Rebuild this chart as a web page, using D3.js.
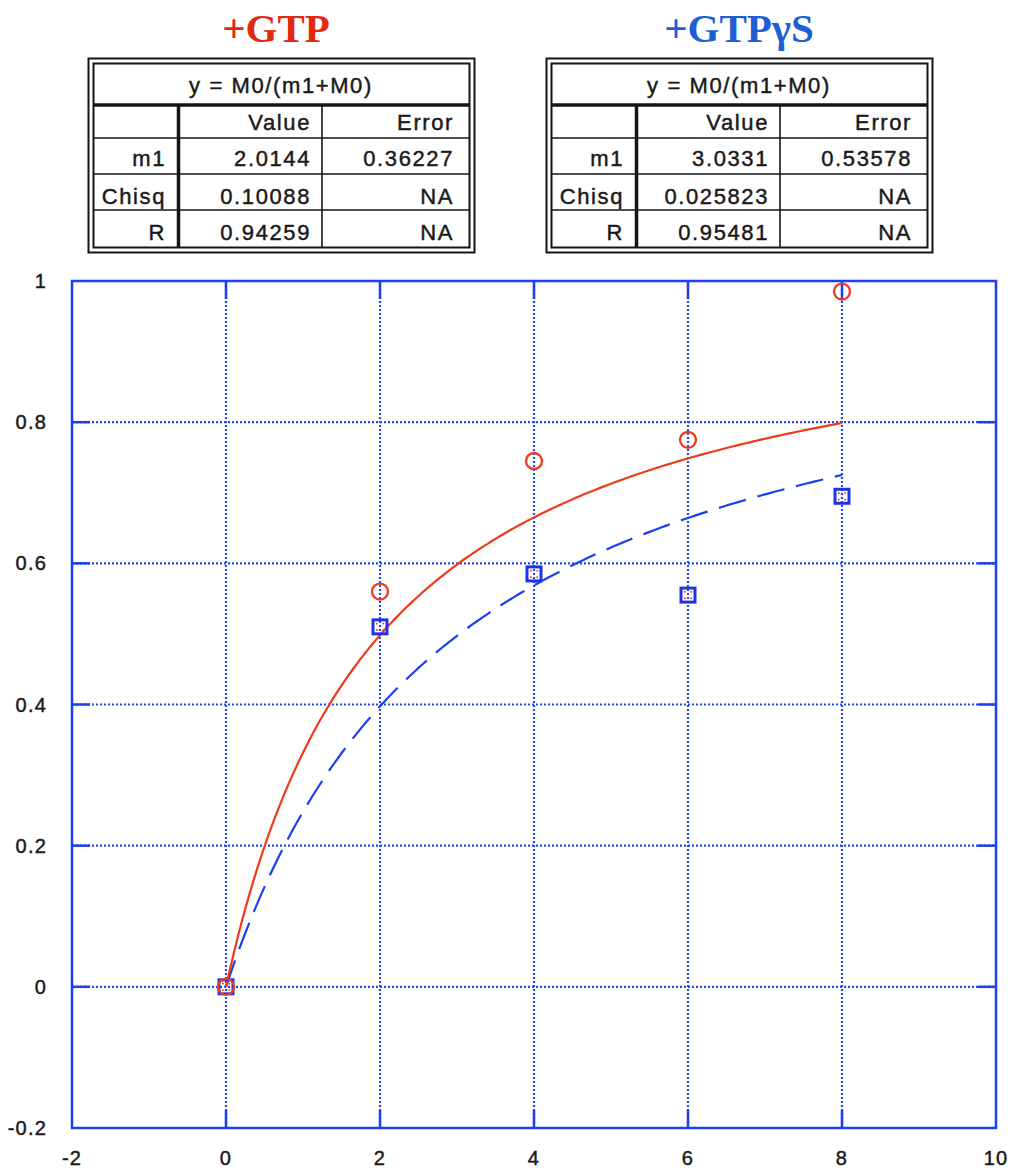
<!DOCTYPE html>
<html>
<head>
<meta charset="utf-8">
<script src="https://cdn.jsdelivr.net/npm/d3@7"></script>
<style>
  html, body { margin: 0; padding: 0; background: #fff; }
  svg { display: block; }
</style>
</head>
<body>
<script>
// Saturation data: fraction bound vs concentration, with hyperbolic fits y = M0/(m1+M0)
const xTicks = [-2, 0, 2, 4, 6, 8, 10];
const yTicks = [-0.2, 0, 0.2, 0.4, 0.6, 0.8, 1];
const yTickLabels = ["-0.2", "0", "0.2", "0.4", "0.6", "0.8", "1"];

const gtpX = [0, 2, 4, 6, 8];
const gtpY = [0, 0.56, 0.745, 0.775, 0.985];
const gtpgsX = [0, 2, 4, 6, 8];
const gtpgsY = [0, 0.51, 0.585, 0.555, 0.695];

// Fit results
const fitFormula = "y = M0/(m1+M0)";
const colHeaders = ["", "Value", "Error"];
const rowNames = ["m1", "Chisq", "R"];
const gtpValues = ["2.0144", "0.10088", "0.94259"];
const gtpErrors = ["0.36227", "NA", "NA"];
const gtpgsValues = ["3.0331", "0.025823", "0.95481"];
const gtpgsErrors = ["0.53578", "NA", "NA"];
const gtpM1 = 2.0144;
const gtpgsM1 = 3.0331;

const W = 1011, H = 1170;
const svg = d3.select("body").append("svg").attr("width", W).attr("height", H);

const RED = "#ee3b1c", BLUE = "#1d3ff0", GRID = "#2748ee";

// ---- titles ----
svg.append("text").attr("x", 276).attr("y", 42).attr("text-anchor", "middle")
  .attr("font-family", "Liberation Serif, serif").attr("font-weight", "bold")
  .attr("font-size", 41).attr("fill", "#e2290f").text("+GTP");
svg.append("text").attr("x", 739).attr("y", 42).attr("text-anchor", "middle")
  .attr("font-family", "Liberation Serif, serif").attr("font-weight", "bold")
  .attr("font-size", 41).attr("fill", "#1f5fd6").text("+GTPγS");

// ---- fit tables ----
function drawTable(x0, values, errors) {
  const g = svg.append("g").attr("transform", `translate(${x0},0)`);
  const ink = "#151515";
  const fnt = { family: "Liberation Sans, Arial, sans-serif", size: 22, ls: 1.6 };
  // double outer border
  g.append("rect").attr("x", 0.5).attr("y", 58.5).attr("width", 386).attr("height", 194)
    .attr("fill", "none").attr("stroke", ink).attr("stroke-width", 2);
  g.append("rect").attr("x", 5.5).attr("y", 63.5).attr("width", 376).attr("height", 184)
    .attr("fill", "none").attr("stroke", ink).attr("stroke-width", 2);
  // thick rule under the formula
  g.append("line").attr("x1", 5).attr("x2", 382).attr("y1", 105).attr("y2", 105)
    .attr("stroke", ink).attr("stroke-width", 3.5);
  // row rules
  [138, 174, 210].forEach(y => g.append("line").attr("x1", 5).attr("x2", 382)
    .attr("y1", y).attr("y2", y).attr("stroke", ink).attr("stroke-width", 1.6));
  // column rules
  g.append("line").attr("x1", 90.5).attr("x2", 90.5).attr("y1", 105).attr("y2", 248)
    .attr("stroke", ink).attr("stroke-width", 3.5);
  g.append("line").attr("x1", 234).attr("x2", 234).attr("y1", 105).attr("y2", 248)
    .attr("stroke", ink).attr("stroke-width", 1.6);

  const txt = (x, y, s, anchor) => g.append("text").attr("x", x).attr("y", y)
    .attr("text-anchor", anchor || "end").attr("font-family", fnt.family)
    .attr("font-size", fnt.size).attr("letter-spacing", fnt.ls).attr("fill", "#1a1a1a")
    .attr("stroke", "#1a1a1a").attr("stroke-width", 0.45).text(s);

  txt(193, 93, fitFormula, "middle");
  const colRight = [78, 223, 366];
  const baselines = [130, 166, 204, 240];
  colHeaders.forEach((h, i) => txt(colRight[i], baselines[0], h));
  rowNames.forEach((r, i) => {
    txt(colRight[0], baselines[i + 1], r);
    txt(colRight[1], baselines[i + 1], values[i]);
    txt(colRight[2], baselines[i + 1], errors[i]);
  });
}
drawTable(88, gtpValues, gtpErrors);
drawTable(546, gtpgsValues, gtpgsErrors);

// ---- plot ----
const x = d3.scaleLinear().domain([-2, 10]).range([72, 996]);
const y = d3.scaleLinear().domain([-0.2, 1]).range([1128, 281]);
const plot = svg.append("g");

// dotted grid
const gridX = xTicks.filter(v => v > -2 && v < 10);
const gridY = yTicks.filter(v => v > -0.2 && v < 1);
plot.selectAll(".gx").data(gridX).join("line")
  .attr("x1", d => x(d)).attr("x2", d => x(d)).attr("y1", y(1)).attr("y2", y(-0.2))
  .attr("stroke", GRID).attr("stroke-width", 2.2).attr("stroke-dasharray", "2,2");
plot.selectAll(".gy").data(gridY).join("line")
  .attr("x1", x(-2)).attr("x2", x(10)).attr("y1", d => y(d)).attr("y2", d => y(d))
  .attr("stroke", GRID).attr("stroke-width", 2.2).attr("stroke-dasharray", "2,2");

// inward solid ticks on all four sides
const tl = 18;
gridX.forEach(v => {
  plot.append("line").attr("x1", x(v)).attr("x2", x(v)).attr("y1", y(1)).attr("y2", y(1) + tl)
    .attr("stroke", BLUE).attr("stroke-width", 2.5);
  plot.append("line").attr("x1", x(v)).attr("x2", x(v)).attr("y1", y(-0.2)).attr("y2", y(-0.2) - tl)
    .attr("stroke", BLUE).attr("stroke-width", 2.5);
});
gridY.forEach(v => {
  plot.append("line").attr("x1", x(-2)).attr("x2", x(-2) + tl).attr("y1", y(v)).attr("y2", y(v))
    .attr("stroke", BLUE).attr("stroke-width", 2.5);
  plot.append("line").attr("x1", x(10)).attr("x2", x(10) - tl).attr("y1", y(v)).attr("y2", y(v))
    .attr("stroke", BLUE).attr("stroke-width", 2.5);
});

// frame
plot.append("rect").attr("x", x(-2)).attr("y", y(1))
  .attr("width", x(10) - x(-2)).attr("height", y(-0.2) - y(1))
  .attr("fill", "none").attr("stroke", BLUE).attr("stroke-width", 2.5);

// tick labels
const lblFont = "Liberation Sans, Arial, sans-serif";
plot.selectAll(".yl").data(yTicks).join("text")
  .attr("x", 47).attr("y", d => y(d) + 7).attr("text-anchor", "end")
  .attr("font-family", lblFont).attr("font-size", 20).attr("letter-spacing", 1.2)
  .attr("fill", "#1a1a1a").attr("stroke", "#1a1a1a").attr("stroke-width", 0.45)
  .text((d, i) => yTickLabels[i]);
plot.selectAll(".xl").data(xTicks).join("text")
  .attr("x", d => x(d)).attr("y", 1165).attr("text-anchor", "middle")
  .attr("font-family", lblFont).attr("font-size", 20).attr("letter-spacing", 1.2)
  .attr("fill", "#1a1a1a").attr("stroke", "#1a1a1a").attr("stroke-width", 0.45)
  .text(d => String(d));

// fitted curves y = x/(m1 + x) over the measured range
const fitXs = d3.range(0, 8.0001, 0.05);
const line = d3.line().x(d => x(d[0])).y(d => y(d[1]));
plot.append("path").datum(fitXs.map(v => [v, v / (gtpgsM1 + v)]))
  .attr("d", line).attr("fill", "none").attr("stroke", BLUE).attr("stroke-width", 2.2)
  .attr("stroke-dasharray", "28,12");
plot.append("path").datum(fitXs.map(v => [v, v / (gtpM1 + v)]))
  .attr("d", line).attr("fill", "none").attr("stroke", RED).attr("stroke-width", 2.2);

// GTPγS: hollow squares
const sq = plot.selectAll(".sq").data(gtpgsX.map((v, i) => [v, gtpgsY[i]])).join("g")
  .attr("transform", d => `translate(${x(d[0])},${y(d[1])})`);
sq.append("rect").attr("x", -7).attr("y", -7).attr("width", 14).attr("height", 14)
  .attr("fill", "none").attr("stroke", "#1c34e6").attr("stroke-width", 3);
[[-4, -4], [2.5, -4], [-4, 2.5], [2.5, 2.5]].forEach(c => sq.append("rect")
  .attr("x", c[0]).attr("y", c[1]).attr("width", 1.6).attr("height", 1.6).attr("fill", "#e8301c"));

// GTP: hollow circles
plot.selectAll(".ci").data(gtpX.map((v, i) => [v, gtpY[i]])).join("circle")
  .attr("cx", d => x(d[0])).attr("cy", d => y(d[1])).attr("r", 8)
  .attr("fill", "none").attr("stroke", RED).attr("stroke-width", 2.3);
</script>
</body>
</html>
